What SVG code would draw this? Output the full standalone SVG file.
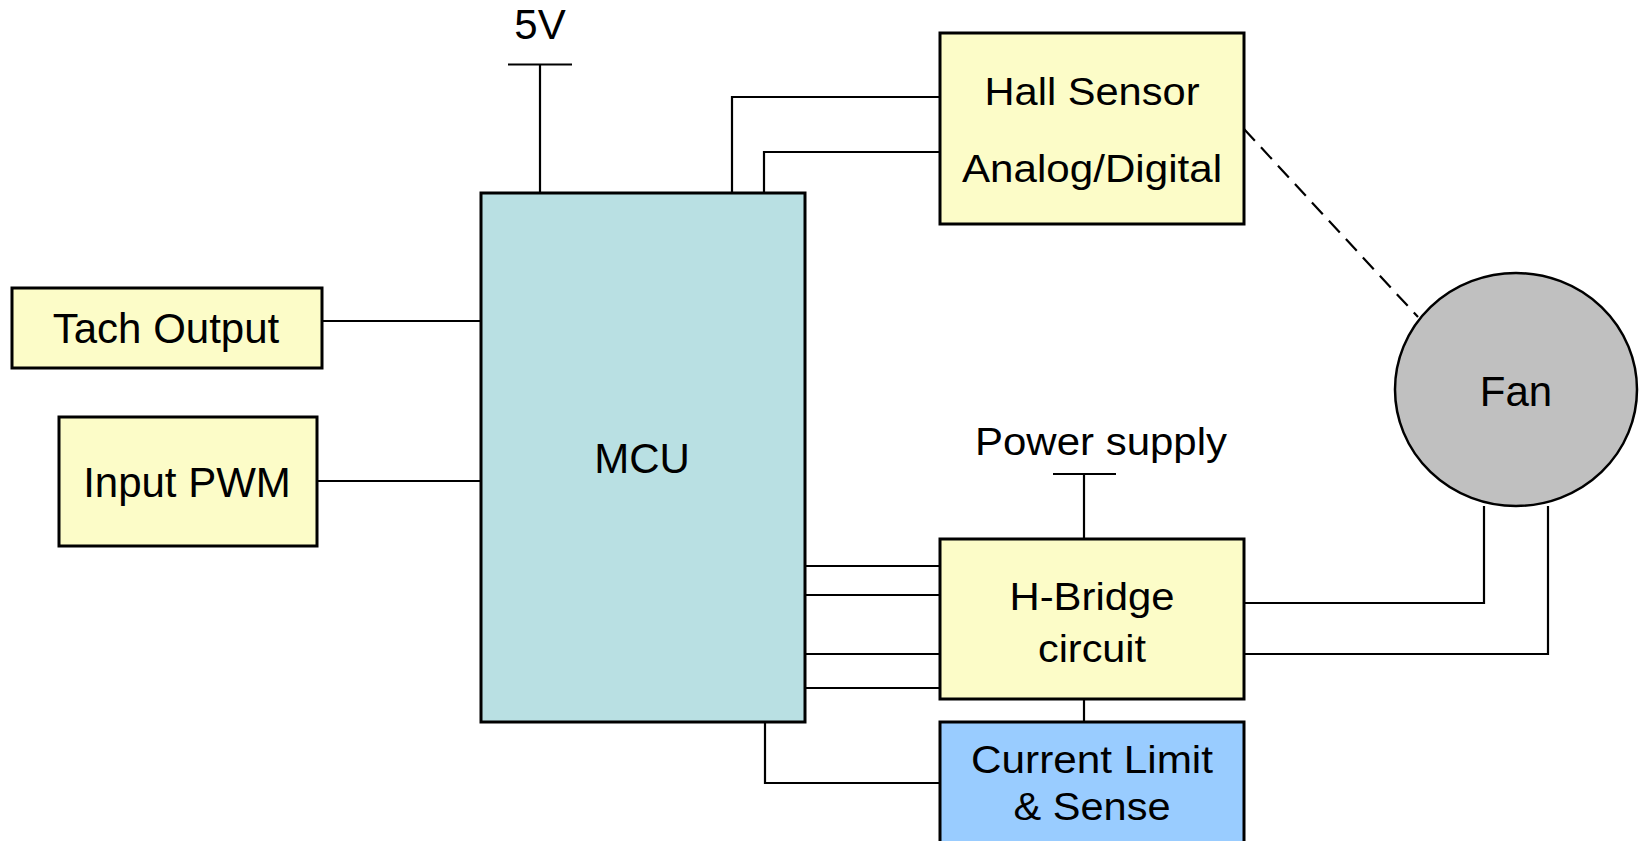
<svg xmlns="http://www.w3.org/2000/svg" width="1643" height="841" viewBox="0 0 1643 841">
<style>
.box{stroke:#000;stroke-width:3}
.yel{fill:#fcfcc8}
.mcu{fill:#b9e0e3}
.blue{fill:#99ccff}
.fan{fill:#c0c0c0;stroke:#000;stroke-width:2.5}
.w{fill:none;stroke:#000;stroke-width:2.2}
.dash{fill:none;stroke:#000;stroke-width:2.2;stroke-dasharray:16 9}
text{font-family:"Liberation Sans",Arial,sans-serif;font-size:42px;fill:#000;text-anchor:middle}
.s{font-size:38px}
</style>
<rect width="1643" height="841" fill="#fff"/>
<g id="connectors">
<polyline class="w" points="508,64.5 572,64.5"/>
<polyline class="w" points="540,64.5 540,193"/>
<polyline class="w" points="732,193 732,97 940,97"/>
<polyline class="w" points="764,193 764,152 940,152"/>
<polyline class="w" points="322,321 481,321"/>
<polyline class="w" points="317,481 481,481"/>
<polyline class="w" points="805,566 940,566"/>
<polyline class="w" points="805,595 940,595"/>
<polyline class="w" points="805,654 940,654"/>
<polyline class="w" points="805,688 940,688"/>
<polyline class="w" points="1053,474 1116,474"/>
<polyline class="w" points="1084,474 1084,539"/>
<polyline class="w" points="1084,699 1084,722"/>
<polyline class="w" points="765,722 765,783 940,783"/>
<polyline class="w" points="1244,603 1484,603 1484,506"/>
<polyline class="w" points="1244,654 1548,654 1548,506"/>
<line class="dash" x1="1244" y1="129" x2="1418" y2="317"/>
</g>
<g id="label-5v"><text x="540" y="39">5V</text></g>
<g id="label-power"><text x="1101" y="455" textLength="252" lengthAdjust="spacingAndGlyphs" class="s">Power supply</text></g>
<g id="mcu">
<rect class="box mcu" x="481" y="193" width="324" height="529"/>
<text x="642" y="473" font-size="41">MCU</text>
</g>
<g id="hall">
<rect class="box yel" x="940" y="33" width="304" height="191"/>
<text class="s" x="1092" y="105" textLength="215" lengthAdjust="spacingAndGlyphs">Hall Sensor</text>
<text class="s" x="1092" y="182" textLength="260" lengthAdjust="spacingAndGlyphs">Analog/Digital</text>
</g>
<g id="tach">
<rect class="box yel" x="12" y="288" width="310" height="80"/>
<text x="166" y="343">Tach Output</text>
</g>
<g id="pwm">
<rect class="box yel" x="59" y="417" width="258" height="129"/>
<text x="187" y="497">Input PWM</text>
</g>
<g id="hbridge">
<rect class="box yel" x="940" y="539" width="304" height="160"/>
<text class="s" x="1092" y="610" textLength="165" lengthAdjust="spacingAndGlyphs">H-Bridge</text>
<text class="s" x="1092" y="662" textLength="108" lengthAdjust="spacingAndGlyphs">circuit</text>
</g>
<g id="current">
<rect class="box blue" x="940" y="722" width="304" height="140"/>
<text class="s" x="1092" y="773" textLength="242" lengthAdjust="spacingAndGlyphs">Current Limit</text>
<text class="s" x="1092" y="820" textLength="157" lengthAdjust="spacingAndGlyphs">&amp; Sense</text>
</g>
<g id="fan">
<ellipse class="fan" cx="1516" cy="389.5" rx="121" ry="116.5"/>
<text x="1516" y="406">Fan</text>
</g>
</svg>
